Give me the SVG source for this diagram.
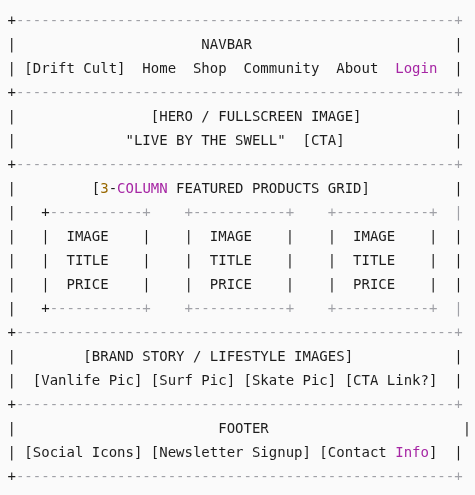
<svg xmlns="http://www.w3.org/2000/svg" width="475" height="495" viewBox="0 0 475 495">
<style>
text{font-family:"DejaVu Sans Mono","Liberation Mono",monospace;font-size:14px;fill:#1e1e1e;white-space:pre}
.c{fill:#a0a1a7}
.k{fill:#a626a4}
.n{fill:#986801}
</style>
<defs>
<filter id="gray" x="0" y="0" width="475" height="495" filterUnits="userSpaceOnUse"><feOffset dx="0" dy="0"/></filter>
</defs>
<rect width="475" height="495" fill="#fafafa"/>
<g filter="url(#gray)">
<g id="borders">
<text x="7.5" y="25" xml:space="preserve">+<tspan class="c">----------------------------------------------------+</tspan></text>
<text x="7.5" y="97" xml:space="preserve">+<tspan class="c">----------------------------------------------------+</tspan></text>
<text x="7.5" y="169" xml:space="preserve">+<tspan class="c">----------------------------------------------------+</tspan></text>
<text x="7.5" y="337" xml:space="preserve">+<tspan class="c">----------------------------------------------------+</tspan></text>
<text x="7.5" y="409" xml:space="preserve">+<tspan class="c">----------------------------------------------------+</tspan></text>
<text x="7.5" y="481" xml:space="preserve">+<tspan class="c">----------------------------------------------------+</tspan></text>
</g>
<g id="navbar">
<text x="7.5" y="49">|</text><text x="201.36" y="49">NAVBAR</text><text x="454.22" y="49">|</text>
<text x="7.5" y="73">|</text><text x="24.36" y="73">[Drift Cult]</text><text x="142.36" y="73">Home</text><text x="192.93" y="73">Shop</text><text x="243.5" y="73">Community</text><text x="336.22" y="73">About</text><text x="395.22" y="73" class="k">Login</text><text x="454.22" y="73">|</text>
</g>
<g id="hero">
<text x="7.5" y="121">|</text><text x="150.79" y="121">[HERO / FULLSCREEN IMAGE]</text><text x="454.22" y="121">|</text>
<text x="7.5" y="145">|</text><text x="125.5" y="145" xml:space="preserve">"LIVE BY THE SWELL"  [CTA]</text><text x="454.22" y="145">|</text>
</g>
<g id="featured">
<text x="7.5" y="193">|</text><text x="91.79" y="193" xml:space="preserve">[<tspan class="n">3</tspan>-<tspan class="k">COLUMN</tspan> FEATURED PRODUCTS GRID]</text><text x="454.22" y="193">|</text>
<g id="box-row-top">
<text x="7.5" y="217">|</text><text x="41.21" y="217">+</text><text x="49.64" y="217" class="c">-----------+</text><text x="184.5" y="217" class="c">+-----------+</text><text x="327.79" y="217" class="c">+-----------+</text><text x="454.22" y="217" class="c">|</text>
</g>
<g id="product-cards">
<text x="7.5" y="241">|</text><text x="41.21" y="241">|</text><text x="66.5" y="241">IMAGE</text><text x="142.36" y="241">|</text><text x="184.5" y="241">|</text><text x="209.79" y="241">IMAGE</text><text x="285.65" y="241">|</text><text x="327.79" y="241">|</text><text x="353.08" y="241">IMAGE</text><text x="428.94" y="241">|</text><text x="454.22" y="241">|</text>
<text x="7.5" y="265">|</text><text x="41.21" y="265">|</text><text x="66.5" y="265">TITLE</text><text x="142.36" y="265">|</text><text x="184.5" y="265">|</text><text x="209.79" y="265">TITLE</text><text x="285.65" y="265">|</text><text x="327.79" y="265">|</text><text x="353.08" y="265">TITLE</text><text x="428.94" y="265">|</text><text x="454.22" y="265">|</text>
<text x="7.5" y="289">|</text><text x="41.21" y="289">|</text><text x="66.5" y="289">PRICE</text><text x="142.36" y="289">|</text><text x="184.5" y="289">|</text><text x="209.79" y="289">PRICE</text><text x="285.65" y="289">|</text><text x="327.79" y="289">|</text><text x="353.08" y="289">PRICE</text><text x="428.94" y="289">|</text><text x="454.22" y="289">|</text>
</g>
<g id="box-row-bottom">
<text x="7.5" y="313">|</text><text x="41.21" y="313">+</text><text x="49.64" y="313" class="c">-----------+</text><text x="184.5" y="313" class="c">+-----------+</text><text x="327.79" y="313" class="c">+-----------+</text><text x="454.22" y="313" class="c">|</text>
</g>
</g>
<g id="brand">
<text x="7.5" y="361">|</text><text x="83.36" y="361">[BRAND STORY / LIFESTYLE IMAGES]</text><text x="454.22" y="361">|</text>
<text x="7.5" y="385">|</text><text x="32.79" y="385">[Vanlife Pic] [Surf Pic] [Skate Pic] [CTA Link?]</text><text x="454.22" y="385">|</text>
</g>
<g id="footer">
<text x="7.5" y="433">|</text><text x="218.22" y="433">FOOTER</text><text x="462.65" y="433">|</text>
<text x="7.5" y="457">|</text><text x="24.36" y="457" xml:space="preserve">[Social Icons] [Newsletter Signup] [Contact <tspan class="k">Info</tspan>]</text><text x="454.22" y="457">|</text>
</g>
</g>
</svg>
